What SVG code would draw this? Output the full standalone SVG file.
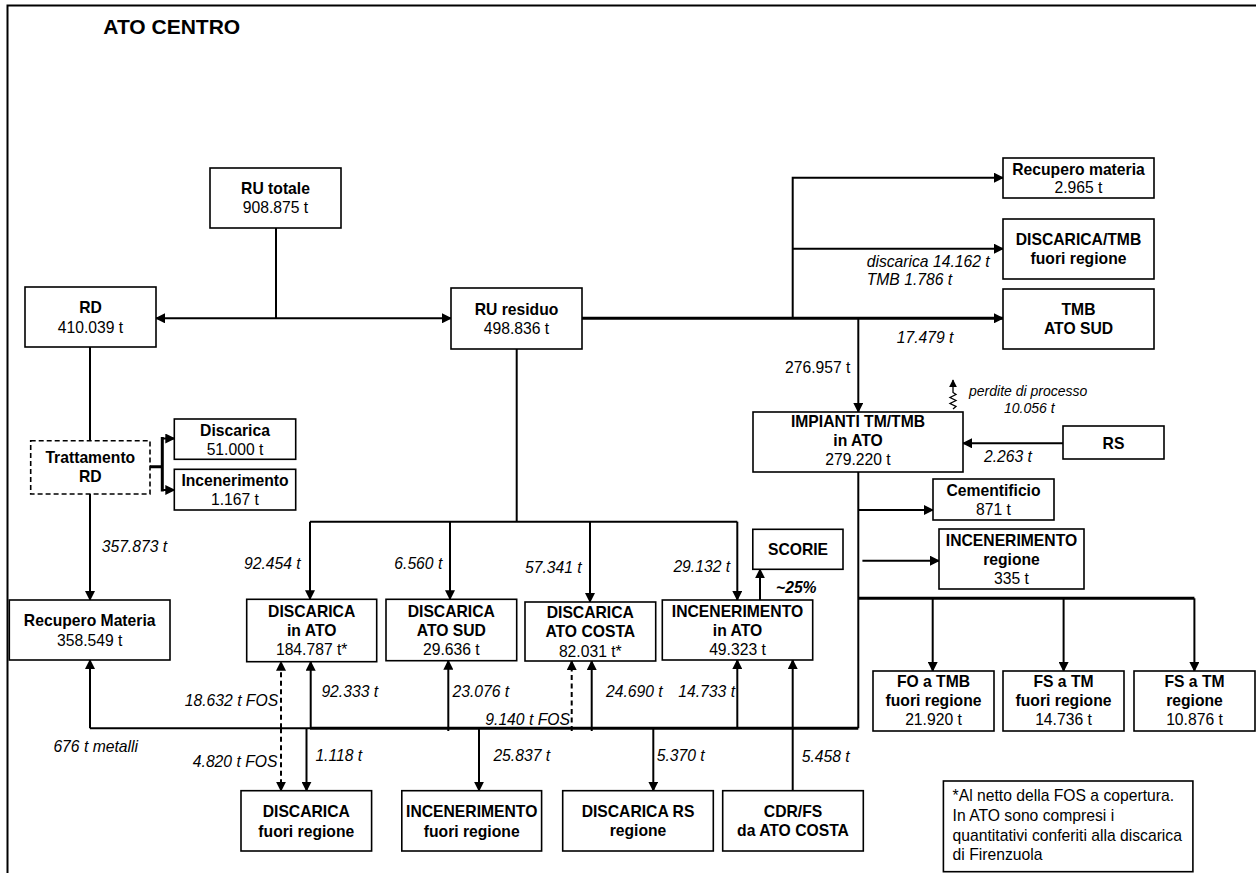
<svg xmlns="http://www.w3.org/2000/svg" width="1256" height="873" viewBox="0 0 1256 873">
<defs>
<style>
text{font-family:"Liberation Sans",Arial,sans-serif;font-size:15.7px;fill:#000}
.b{font-weight:bold;text-anchor:middle}
.r{text-anchor:middle}
.i{font-style:italic}
.s{font-size:14px}
.note{font-size:15.7px}
rect{fill:#fff;stroke:#000;stroke-width:1.6}
.dbox{stroke-dasharray:5,3}
.c{fill:none;stroke:#000;stroke-width:2}
.t{stroke-width:3}
.d{stroke-dasharray:5,3.5}
.a{marker-end:url(#ah)}
</style>
<marker id="ah" viewBox="0 0 10 10" refX="9" refY="5" markerWidth="10" markerHeight="10" markerUnits="userSpaceOnUse" orient="auto"><path d="M0,0 L10,5 L0,10 z" fill="#000"/></marker>
<marker id="ahs" viewBox="0 0 10 10" refX="9" refY="5" markerWidth="8" markerHeight="8" markerUnits="userSpaceOnUse" orient="auto"><path d="M0,0 L10,5 L0,10 z" fill="#000"/></marker>
</defs>
<rect x="0" y="0" width="1256" height="873" style="fill:#fff;stroke:none"/>
<path d="M7.5,873 V5.5 H1256" class="c"/>
<text x="103.3" y="34" style="font-weight:bold;font-size:21px">ATO CENTRO</text>

<g id="connectors">
<path class="c" d="M276,228 V318.3"/>
<path class="c a" d="M276,318.3 H156"/>
<path class="c a" d="M276,318.3 H451"/>
<path class="c" d="M90,347 V440.7"/>
<path class="c t" d="M150,466.7 H162.3 M162.3,437 V491.5"/>
<path class="c a" d="M162.3,438.5 H174.3"/>
<path class="c a" d="M162.3,490 H174.3"/>
<path class="c a" d="M90,494 V600"/>
<path class="c t a" d="M582,318.3 H1003"/>
<path class="c a" d="M792.7,318.3 V177.7 H1003"/>
<path class="c a" d="M792.7,248.7 H1003"/>
<path class="c a" d="M858.3,318.3 V412"/>
<path class="c a" d="M1063,443.3 H963"/>
<path d="M953,409 l3,-2.5 l-6,-3 l6,-3 l-6,-3 l6,-3 l-3,-2 V380" style="fill:none;stroke:#000;stroke-width:1.3;marker-end:url(#ahs)"/>
<path class="c" d="M858.3,472 V728.3"/>
<path class="c a" d="M858.3,510 H933"/>
<path class="c a" d="M862.4,560.7 H939"/>
<path class="c t" d="M858.3,598.3 H1194.4"/>
<path class="c a" d="M932.7,598.3 V671"/>
<path class="c a" d="M1063.6,598.3 V671"/>
<path class="c a" d="M1194.4,598.3 V671"/>
<path class="c" d="M516.7,349 V521.7"/>
<path class="c" d="M310,521.7 H737.3"/>
<path class="c a" d="M310,521.7 V599.3"/>
<path class="c a" d="M450,521.7 V599.3"/>
<path class="c a" d="M590,521.7 V602"/>
<path class="c a" d="M737.3,521.7 V600"/>
<path class="c a" d="M760,600 V569.3"/>
<path class="c" d="M90,728.3 H310"/>
<path class="c t" d="M310,728.3 H858.3"/>
<path class="c a" d="M90,728.3 V660"/>
<path class="c d a" d="M281,728.3 V661.7"/>
<path class="c d a" d="M281,728.3 V790.7"/>
<path class="c a" d="M310.7,728.3 V661.7"/>
<path class="c a" d="M306.5,728.3 V790.7"/>
<path class="c a" d="M448.3,731 V660.7"/>
<path class="c a" d="M479,728.3 V790.7"/>
<path class="c d a" d="M571.7,731 V661"/>
<path class="c a" d="M591.7,731 V661"/>
<path class="c a" d="M653.3,728.3 V790.7"/>
<path class="c a" d="M737.3,728.3 V660"/>
<path class="c a" d="M792.7,790.7 V660"/>
</g>

<g id="labels">
<text class="i" x="866.7" y="266.7">discarica 14.162 t</text>
<text class="i" x="866.7" y="285">TMB 1.786 t</text>
<text class="i" x="896.7" y="342.7">17.479 t</text>
<text x="785" y="372.7">276.957 t</text>
<text class="i s" x="969" y="396">perdite di processo</text>
<text class="i s" x="1004" y="412.7">10.056 t</text>
<text class="i" x="984" y="461.7">2.263 t</text>
<text class="i" x="101.7" y="551.7">357.873 t</text>
<text class="i" x="244" y="569.3">92.454 t</text>
<text class="i" x="394.3" y="569.3">6.560 t</text>
<text class="i" x="525" y="572.7">57.341 t</text>
<text class="i" x="673.4" y="572">29.132 t</text>
<text class="i" x="776" y="593.3" style="font-weight:bold">~25%</text>
<text class="i" x="184.8" y="706">18.632 t FOS</text>
<text class="i" x="321.4" y="696.5">92.333 t</text>
<text class="i" x="452.5" y="696.5">23.076 t</text>
<text class="i" x="485.3" y="725">9.140 t FOS</text>
<text class="i" x="606" y="696.7">24.690 t</text>
<text class="i" x="678.3" y="696.7">14.733 t</text>
<text class="i" x="53.4" y="751.7">676 t metalli</text>
<text class="i" x="192.8" y="766.7">4.820 t FOS</text>
<text class="i" x="315.4" y="761">1.118 t</text>
<text class="i" x="493.4" y="761">25.837 t</text>
<text class="i" x="656.7" y="760.7">5.370 t</text>
<text class="i" x="801.7" y="761.7">5.458 t</text>
</g>

<g id="n-ru-totale"><rect x="210" y="168" width="131" height="60"/><text class="b" x="275.5" y="194.3">RU totale</text><text class="r" x="275.5" y="213.3">908.875 t</text></g>
<g id="n-rd"><rect x="25" y="287" width="131" height="60"/><text class="b" x="90.5" y="313.3">RD</text><text class="r" x="90.5" y="332.5">410.039 t</text></g>
<g id="n-ru-residuo"><rect x="451" y="288" width="131" height="61"/><text class="b" x="516.5" y="315">RU residuo</text><text class="r" x="516.5" y="334.3">498.836 t</text></g>
<g id="n-recupero-materia-top"><rect x="1003" y="158" width="151" height="40"/><text class="b" x="1078.5" y="175">Recupero materia</text><text class="r" x="1078.5" y="193.3">2.965 t</text></g>
<g id="n-discarica-tmb"><rect x="1003" y="219" width="151" height="60"/><text class="b" x="1078.5" y="245">DISCARICA/TMB</text><text class="b" x="1078.5" y="264">fuori regione</text></g>
<g id="n-tmb-ato-sud"><rect x="1003" y="289" width="151" height="60"/><text class="b" x="1078.5" y="315">TMB</text><text class="b" x="1078.5" y="334">ATO SUD</text></g>
<g id="n-impianti"><rect x="753" y="412" width="210" height="60"/><text class="b" x="858" y="427">IMPIANTI TM/TMB</text><text class="b" x="858" y="446">in ATO</text><text class="r" x="858" y="465">279.220 t</text></g>
<g id="n-rs"><rect x="1063" y="426" width="101" height="33"/><text class="b" x="1113.5" y="448.5">RS</text></g>
<g id="n-cementificio"><rect x="933" y="479" width="121" height="41"/><text class="b" x="993.5" y="495.5">Cementificio</text><text class="r" x="993.5" y="514.5">871 t</text></g>
<g id="n-inc-regione"><rect x="939" y="529" width="145" height="60"/><text class="b" x="1011.5" y="546">INCENERIMENTO</text><text class="b" x="1011.5" y="565">regione</text><text class="r" x="1011.5" y="584">335 t</text></g>
<g id="n-fo-tmb"><rect x="873" y="671" width="121" height="60"/><text class="b" x="933.5" y="687">FO a TMB</text><text class="b" x="933.5" y="706">fuori regione</text><text class="r" x="933.5" y="725">21.920 t</text></g>
<g id="n-fs-tm-fuori"><rect x="1003" y="671" width="121" height="60"/><text class="b" x="1063.5" y="687">FS a TM</text><text class="b" x="1063.5" y="706">fuori regione</text><text class="r" x="1063.5" y="725">14.736 t</text></g>
<g id="n-fs-tm-regione"><rect x="1134" y="671" width="121" height="60"/><text class="b" x="1194.5" y="687">FS a TM</text><text class="b" x="1194.5" y="706">regione</text><text class="r" x="1194.5" y="725">10.876 t</text></g>
<g id="n-trattamento"><rect class="dbox" x="30.7" y="440.7" width="119.3" height="53.3"/><text class="b" x="90.3" y="463.3">Trattamento</text><text class="b" x="90.3" y="481.7">RD</text></g>
<g id="n-discarica-rd"><rect x="174.3" y="419" width="121.4" height="40.3"/><text class="b" x="235" y="436">Discarica</text><text class="r" x="235" y="455">51.000 t</text></g>
<g id="n-incenerimento-rd"><rect x="174.3" y="469.3" width="121.4" height="40.7"/><text class="b" x="235" y="486">Incenerimento</text><text class="r" x="235" y="505">1.167 t</text></g>
<g id="n-recupero-materia"><rect x="9.3" y="600" width="160.7" height="60"/><text class="b" x="89.7" y="626">Recupero Materia</text><text class="r" x="89.7" y="645.7">358.549 t</text></g>
<g id="n-disc-ato"><rect x="246.7" y="599.3" width="130" height="62.4"/><text class="b" x="311.7" y="616.7">DISCARICA</text><text class="b" x="311.7" y="636">in ATO</text><text class="r" x="311.7" y="655">184.787 t*</text></g>
<g id="n-disc-sud"><rect x="386" y="599.3" width="130.7" height="61.4"/><text class="b" x="451.3" y="616.7">DISCARICA</text><text class="b" x="451.3" y="636">ATO SUD</text><text class="r" x="451.3" y="655">29.636 t</text></g>
<g id="n-disc-costa"><rect x="525" y="602" width="130.7" height="59"/><text class="b" x="590.3" y="617.5">DISCARICA</text><text class="b" x="590.3" y="637">ATO COSTA</text><text class="r" x="590.3" y="656.5">82.031 t*</text></g>
<g id="n-inc-ato"><rect x="662.3" y="600" width="150.4" height="60"/><text class="b" x="737.5" y="617.3">INCENERIMENTO</text><text class="b" x="737.5" y="636">in ATO</text><text class="r" x="737.5" y="655">49.323 t</text></g>
<g id="n-scorie"><rect x="752.8" y="529.3" width="90.2" height="40"/><text class="b" x="798" y="555">SCORIE</text></g>
<g id="n-disc-fuori"><rect x="241" y="790.7" width="130.6" height="60.3"/><text class="b" x="306.3" y="817.3">DISCARICA</text><text class="b" x="306.3" y="836.7">fuori regione</text></g>
<g id="n-inc-fuori"><rect x="401.8" y="790.7" width="139.8" height="60.3"/><text class="b" x="471.7" y="817">INCENERIMENTO</text><text class="b" x="471.7" y="836.5">fuori regione</text></g>
<g id="n-disc-rs"><rect x="562.7" y="790.7" width="150.6" height="60.3"/><text class="b" x="638" y="816.7">DISCARICA RS</text><text class="b" x="638" y="836">regione</text></g>
<g id="n-cdr-fs"><rect x="722.7" y="790.7" width="140.6" height="60.3"/><text class="b" x="793" y="816.7">CDR/FS</text><text class="b" x="793" y="836">da ATO COSTA</text></g>
<g id="n-note"><rect x="943.4" y="781" width="249.5" height="90.7"/><text class="note" x="952.6" y="800.7">*Al netto della FOS a copertura.</text><text class="note" x="952.6" y="820.7">In ATO sono compresi i</text><text class="note" x="952.6" y="840.7">quantitativi conferiti alla discarica</text><text class="note" x="952.6" y="860">di Firenzuola</text></g>
</svg>
